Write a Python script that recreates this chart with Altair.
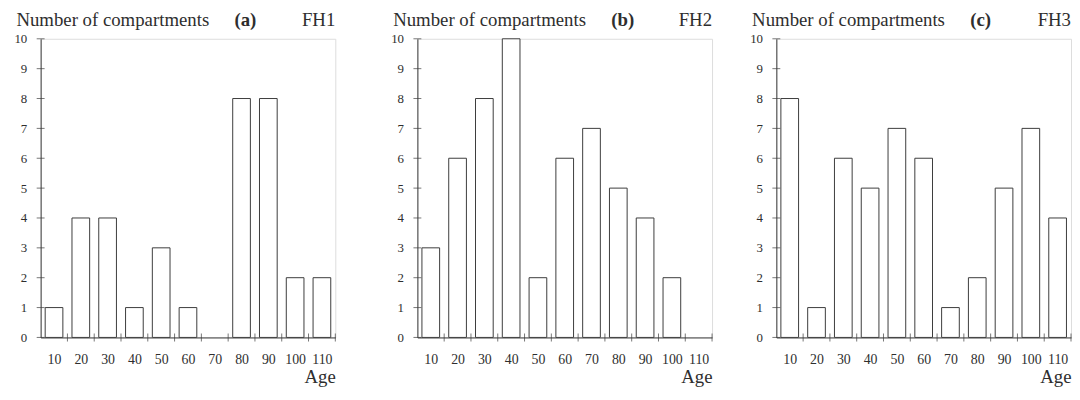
import altair as alt
import pandas as pd

ages = [10, 20, 30, 40, 50, 60, 70, 80, 90, 100, 110]
fh1 = [1, 4, 4, 1, 3, 1, 0, 8, 8, 2, 2]
fh2 = [3, 6, 8, 10, 2, 6, 7, 5, 4, 2, 0]
fh3 = [8, 1, 6, 5, 7, 6, 1, 2, 5, 7, 4]
letters = ["(a)", "(b)", "(c)"]
names = ["FH1", "FH2", "FH3"]
x_bounds = [15, 25, 35, 45, 55, 65, 75, 85, 95, 105, 115]
y_ticks = [0, 1, 2, 3, 4, 5, 6, 7, 8, 9, 10]

INK = "#2e2e2e"
LINE = "#3c3c3c"
W, H = 298, 302
FONT = "Liberation Serif"


def panel(counts, letter, name):
    df = pd.DataFrame({"age": ages, "count": counts})
    xscale = alt.Scale(domain=[5, 115], nice=False, zero=False)
    yscale = alt.Scale(domain=[0, 10], nice=False)
    xaxis = alt.Axis(values=ages, ticks=False, tickSize=0, labelPadding=15,
                     labelFont=FONT, labelFontSize=14, labelColor=INK, grid=False,
                     domainColor=LINE, title="Age", titleX=W, titleY=46,
                     titleAlign="right", titleBaseline="alphabetic",
                     titleFont=FONT, titleFontSize=19, titleFontWeight="normal",
                     titleColor=INK)
    yaxis = alt.Axis(values=y_ticks, ticks=False, tickSize=0, labelPadding=14,
                     labelFont=FONT, labelFontSize=13, labelColor=INK, grid=False,
                     domainColor=LINE, title="Number of compartments",
                     titleAngle=0, titleX=-25, titleY=-13, titleAlign="left",
                     titleBaseline="alphabetic", titleFont=FONT, titleFontSize=19,
                     titleFontWeight="normal", titleColor=INK)

    bars = alt.Chart(df).transform_filter("datum.count > 0").transform_calculate(
        x0="datum.age - 3.3", x1="datum.age + 3.3"
    ).mark_bar(fill="white", stroke=LINE, strokeWidth=1).encode(
        x=alt.X("x0:Q", scale=xscale, axis=xaxis),
        x2="x1:Q",
        y=alt.Y("count:Q", scale=yscale, axis=yaxis),
        y2=alt.datum(0),
    )

    xt = alt.Chart(pd.DataFrame({"b": x_bounds})).mark_tick(
        orient="vertical", size=8, thickness=1, color=LINE
    ).encode(
        x=alt.X("b:Q", scale=xscale, axis=xaxis),
        y=alt.datum(0, scale=yscale, axis=yaxis),
    )

    yt = alt.Chart(pd.DataFrame({"v": y_ticks})).mark_tick(
        orient="horizontal", size=8, thickness=1, color=LINE
    ).encode(
        y=alt.Y("v:Q", scale=yscale, axis=yaxis),
        x=alt.datum(5, scale=xscale, axis=xaxis),
    )

    lab = alt.Chart(pd.DataFrame({"t": [letter]})).mark_text(
        align="left", baseline="alphabetic", fontSize=19, fontWeight="bold",
        color=INK, font=FONT
    ).encode(x=alt.value(196), y=alt.value(-13), text="t:N")

    nm = alt.Chart(pd.DataFrame({"t": [name]})).mark_text(
        align="right", baseline="alphabetic", fontSize=19, color=INK, font=FONT
    ).encode(x=alt.value(W), y=alt.value(-13), text="t:N")

    return alt.layer(bars, xt, yt, lab, nm).properties(width=W, height=H)


pa = panel(fh1, letters[0], names[0])
pb = panel(fh2, letters[1], names[1])
pc = panel(fh3, letters[2], names[2])

chart = alt.hconcat(
    alt.hconcat(pa, pb, spacing=54), pc, spacing=36
).properties(
    padding={"left": 5, "right": 0, "top": 0, "bottom": -2}
).configure_view(stroke=None).configure(
    font=FONT, background="white"
)

chart.save("out.html", embed_options={"renderer": "svg", "actions": False})
